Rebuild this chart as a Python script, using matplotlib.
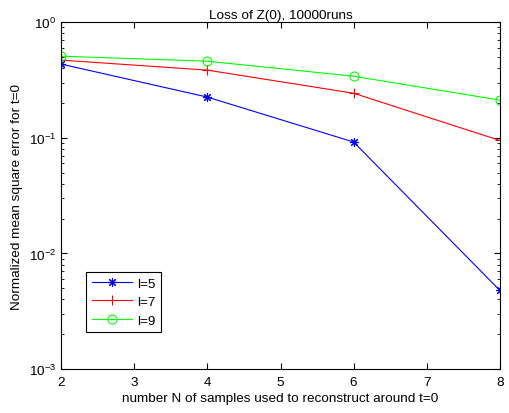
import matplotlib
matplotlib.use("Agg")
import matplotlib.pyplot as plt
import numpy as np

plt.rcParams['font.family'] = ['Liberation Sans', 'DejaVu Sans']
plt.rcParams['font.size'] = 9.7

n_samples = [2, 4, 6, 8]
err_l5 = [0.434, 0.225, 0.092, 0.0048]
err_l7 = [0.47, 0.385, 0.243, 0.095]
err_l9 = [0.508, 0.46, 0.341, 0.212]

fig = plt.figure(figsize=(5.1, 4.14), dpi=100)
ax = fig.add_axes([0.12, 0.106, 0.86, 0.838])

# MATLAB-like asterisk: 8 spokes
ax.semilogy(n_samples, err_l5, color='blue', marker=(8, 2, 0), ms=6.5, mew=0.8, lw=0.8, label='l=5')
ax.semilogy(n_samples, err_l7, color='red', marker='+', ms=7.5, mew=0.8, lw=0.8, label='l=7')
ax.semilogy(n_samples, err_l9, color='#00ff00', marker='o', ms=6.5, mfc='none', mew=0.8, lw=0.8, label='l=9')

ax.set_xlim(2, 8)
ax.set_ylim(1e-3, 1)
ax.set_xticks(range(2, 9))
ax.tick_params(which='both', direction='in', top=True, right=True, labelsize=9.7)
ax.tick_params(which='major', length=4)
ax.tick_params(which='minor', length=2)
ax.tick_params(axis='x', pad=5)
for s in ax.spines.values():
    s.set_linewidth(0.8)

ax.set_title('Loss of Z(0), 10000runs', fontsize=9.7, pad=3)
ax.set_xlabel('number N of samples used to reconstruct around t=0', fontsize=9.7, labelpad=3)
ax.set_ylabel('Normalized mean square error for t=0', fontsize=9.7)

leg = ax.legend(loc='lower left', bbox_to_anchor=(0.057, 0.107), borderaxespad=0,
                fancybox=False, edgecolor='black', framealpha=1, handlelength=3.0,
                fontsize=9.7, handletextpad=0.4, labelspacing=0.45)
leg.get_frame().set_linewidth(0.8)

fig.savefig('out.png', dpi=100)
